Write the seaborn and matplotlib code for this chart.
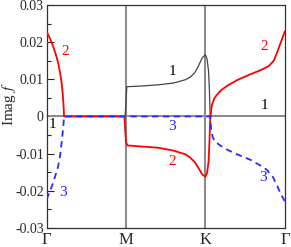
import numpy as np
import pandas as pd
import matplotlib
matplotlib.use('Agg')
import matplotlib.pyplot as plt
import seaborn as sns
from matplotlib.ticker import MultipleLocator

# --- data (x: Γ=0, M=1, K=2, Γ=3) ---
x_red = [0.0, 0.04, 0.083, 0.12, 0.146, 0.17, 0.189, 0.20, 0.209, 0.215, 0.22, 0.6, 0.98, 1.0,
         1.02, 1.2, 1.4, 1.6, 1.75, 1.81, 1.87, 1.91, 1.96, 2.0, 2.02, 2.04, 2.05,
         2.06, 2.08, 2.11, 2.14, 2.2, 2.27, 2.4, 2.56, 2.7, 2.8, 2.86, 2.9, 2.95, 3.0]
y_red = [0.0229, 0.0211, 0.0189, 0.0164, 0.0144, 0.0118, 0.0091, 0.0070, 0.0045, 0.0025, 0.0, 0.0, 0.0, -0.0070,
         -0.0078, -0.0081, -0.0084, -0.0092, -0.0102, -0.0111, -0.0124, -0.0138, -0.0156, -0.0162, -0.0152, -0.0120, -0.0070,
         -0.0008, 0.0030, 0.0048, 0.0057, 0.0071, 0.0082, 0.0098, 0.0113, 0.0125, 0.0136, 0.0150, 0.0171, 0.0200, 0.0229]

x_black = [0.99, 1.01, 1.2, 1.4, 1.6, 1.75, 1.81, 1.87, 1.91, 1.96, 2.0, 2.02, 2.04, 2.05, 2.06]
y_black = [0.0, 0.0080, 0.0082, 0.0085, 0.0090, 0.0099, 0.0106, 0.0119, 0.0135, 0.0158, 0.0166, 0.0155, 0.0120, 0.0070, 0.0]

x_blue = [0.0, 0.04, 0.083, 0.12, 0.146, 0.17, 0.189, 0.20, 0.209, 0.215, 0.22, 1.0, 2.0, 2.06,
          2.07, 2.09, 2.12, 2.2, 2.27, 2.4, 2.56, 2.7, 2.77, 2.85, 2.9, 2.95, 3.0]
y_blue = [-0.0223, -0.0203, -0.0178, -0.0153, -0.0134, -0.0106, -0.0071, -0.0050, -0.0030, -0.0016, 0.0, 0.0, 0.0, 0.0,
          -0.0030, -0.0055, -0.0068, -0.0080, -0.0089, -0.0102, -0.0116, -0.0133, -0.0143, -0.0163, -0.0185, -0.0210, -0.0228]

tick_pos = [0, 1, 2, 3]
tick_labels = ['Γ', 'M', 'K', 'Γ']

# branch labels: (x, y, text, color)
lab_x = [0.24, 0.07, 0.21, 1.58, 1.58, 1.58, 2.74, 2.74, 2.72]
lab_y = [0.0176, -0.0022, -0.0205, 0.0121, -0.0027, -0.0120, 0.0189, 0.0030, -0.0164]
lab_txt = ['2', '1', '3', '1', '3', '2', '2', '1', '3']
lab_col = ['red', 'black', '#2222ff', 'black', '#2222ff', 'red', 'red', 'black', '#2222ff']

sns.set_style('ticks')
plt.rcParams['font.family'] = ['Liberation Serif', 'DejaVu Serif']
plt.rcParams['mathtext.fontset'] = 'stix'

fig = plt.figure(figsize=(2.91, 2.47), dpi=100)
ax = fig.add_axes([0.160, 0.077, 0.819, 0.903])

# reference lines
ax.axhline(0, color='#8c8c8c', lw=1.5, zorder=1)
for xv in [1, 2]:
    ax.axvline(xv, color='#8c8c8c', lw=1.5, zorder=1)

sns.lineplot(x=x_black, y=y_black, ax=ax, color='#444444', lw=0.9, sort=False, zorder=2)
sns.lineplot(x=x_red, y=y_red, ax=ax, color='#ff0000', lw=1.3, sort=False, zorder=3)
sns.lineplot(x=x_blue, y=y_blue, ax=ax, color='#2a2aff', lw=1.3, sort=False, zorder=4,
             linestyle=(0, (3.5, 2.5)))

for xx, yy, t, c in zip(lab_x, lab_y, lab_txt, lab_col):
    ax.text(xx, yy, t, color=c, fontsize=11, ha='center', va='center')

ax.set_xlim(0, 3)
ax.set_ylim(-0.03, 0.03)
ax.set_xticks(tick_pos)
ax.set_xticklabels(tick_labels, fontsize=12)
ax.set_yticks([-0.03, -0.02, -0.01, 0, 0.01, 0.02, 0.03])
ax.set_yticklabels(['-0.03', '-0.02', '-0.01', '0', '0.01', '0.02', '0.03'], fontsize=10)
ax.yaxis.set_minor_locator(MultipleLocator(0.005))
ax.tick_params(axis='y', which='major', direction='in', length=5, width=0.8, pad=2)
ax.tick_params(axis='y', which='minor', direction='in', length=3, width=0.8)
ax.tick_params(axis='x', length=0, pad=3)
ax.set_ylabel('Imag $f$', fontsize=11)
ax.yaxis.set_label_coords(-0.118, 0.556)
for s in ax.spines.values():
    s.set_color('#333333')
    s.set_linewidth(0.9)

fig.savefig('out.png', dpi=100)
